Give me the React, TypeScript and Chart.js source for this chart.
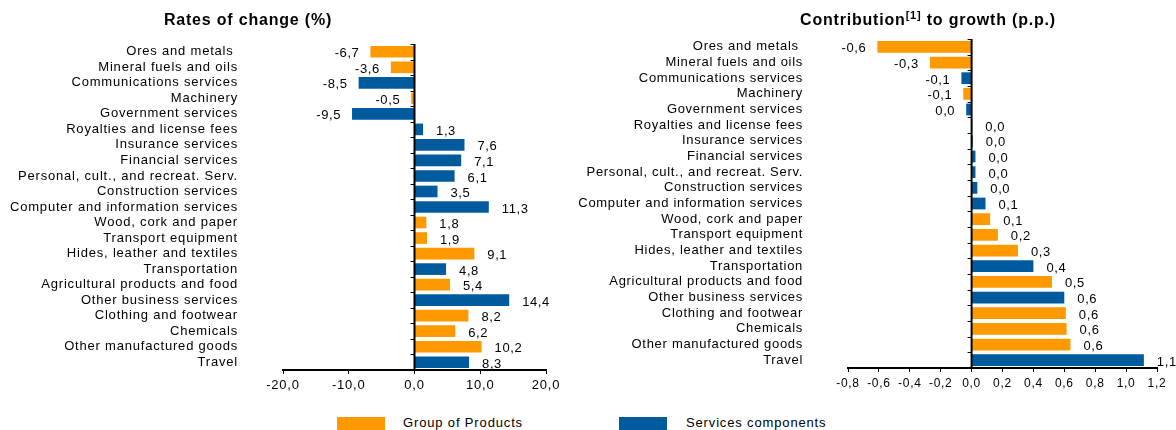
import React, { useEffect, useRef } from 'react';
import { Chart, registerables } from 'chart.js';

Chart.register(...registerables);

const categories = [
  'Ores and metals ',
  'Mineral fuels and oils',
  'Communications services',
  'Machinery',
  'Government services',
  'Royalties and license fees',
  'Insurance services',
  'Financial services',
  'Personal, cult., and recreat. Serv.',
  'Construction services',
  'Computer and information services',
  'Wood, cork and paper',
  'Transport equipment',
  'Hides, leather and textiles',
  'Transportation',
  'Agricultural products and food',
  'Other business services',
  'Clothing and footwear',
  'Chemicals',
  'Other manufactured goods',
  'Travel',
];

// P = Group of Products, S = Services components
const groupType = ['P', 'P', 'S', 'P', 'S', 'S', 'S', 'S', 'S', 'S', 'S', 'P', 'P', 'P', 'S', 'P', 'S', 'P', 'P', 'P', 'S'];

const ratesOfChange = [-6.7, -3.6, -8.5, -0.5, -9.5, 1.3, 7.6, 7.1, 6.1, 3.5, 11.3, 1.8, 1.9, 9.1, 4.8, 5.4, 14.4, 8.2, 6.2, 10.2, 8.3];

const contributions = [-0.61, -0.27, -0.066, -0.054, -0.035, 0.004, 0.008, 0.025, 0.025, 0.037, 0.09, 0.12, 0.17, 0.3, 0.4, 0.52, 0.6, 0.61, 0.615, 0.64, 1.115];

const leftTicks = { min: -20, max: 20, step: 10 };
const rightTicks = { min: -0.8, max: 1.2, step: 0.2 };

const seriesNames = ['Group of Products', 'Services components'];
const ORANGE = '#ff9900';
const BLUE = '#005a9e';

const FONT = "'Liberation Sans', Arial, sans-serif";
const NARROW = "'Liberation Sans Narrow', 'Liberation Sans', Arial, sans-serif";

const fmt = (v: number) => {
  const s = v.toFixed(1);
  if (Math.abs(parseFloat(s)) === 0) return '0,0';
  return s.replace('.', ',');
};

const spacingPlugin = {
  id: 'spacing',
  beforeUpdate(chart: any, _args: any, opts: any) {
    chart.ctx.letterSpacing = opts.value;
  },
  beforeDraw(chart: any, _args: any, opts: any) {
    chart.ctx.letterSpacing = opts.value;
  },
};

const barLabels = {
  id: 'barLabels',
  afterDatasetsDraw(chart: any) {
    const { ctx } = chart;
    const xs = chart.scales.x;
    const ys = chart.scales.y;
    ctx.save();
    ctx.letterSpacing = '0.6px';
    ctx.font = `13px ${FONT}`;
    ctx.fillStyle = '#000';
    ctx.textBaseline = 'middle';
    chart.data.datasets.forEach((ds: any, di: number) => {
      const meta = chart.getDatasetMeta(di);
      meta.data.forEach((el: any, i: number) => {
        const v = ds.data[i];
        if (v == null) return;
        const txt = fmt(v);
        if (v >= 0) {
          ctx.textAlign = 'left';
          ctx.fillText(txt, el.x + 13, el.y + 2);
        } else {
          ctx.textAlign = 'right';
          ctx.fillText(txt, el.x - 11, el.y + 2);
        }
      });
    });
    const x0 = xs.getPixelForValue(0);
    ctx.strokeStyle = '#000';
    ctx.lineWidth = 2;
    ctx.beginPath();
    ctx.moveTo(x0, ys.top);
    ctx.lineTo(x0, ys.bottom);
    ctx.stroke();
    ctx.lineWidth = 1;
    const n = chart.data.labels.length;
    for (let i = 0; i <= n; i++) {
      const y = Math.round(ys.top + ((ys.bottom - ys.top) * i) / n) + 0.5;
      ctx.beginPath();
      ctx.moveTo(x0 - 4, y);
      ctx.lineTo(x0, y);
      ctx.stroke();
    }
    ctx.restore();
  },
};

type Cfg = {
  values: number[];
  ticks: { min: number; max: number; step: number };
  yWidth: number;
  xHeight: number;
  padTop: number;
  padRight: number;
  tickFont: string;
  tickSize: number;
  spacing: string;
};

function BarChart({ cfg, width, height }: { cfg: Cfg; width: number; height: number }) {
  const ref = useRef<HTMLCanvasElement>(null);
  useEffect(() => {
    if (!ref.current) return;
    const products = cfg.values.map((v, i) => (groupType[i] === 'P' ? v : null));
    const services = cfg.values.map((v, i) => (groupType[i] === 'S' ? v : null));
    const chart = new Chart(ref.current, {
      type: 'bar',
      data: {
        labels: categories,
        datasets: [
          { label: seriesNames[0], data: products, backgroundColor: ORANGE, grouped: false, barPercentage: 0.75, categoryPercentage: 1 } as any,
          { label: seriesNames[1], data: services, backgroundColor: BLUE, grouped: false, barPercentage: 0.75, categoryPercentage: 1 } as any,
        ],
      },
      plugins: [spacingPlugin, barLabels],
      options: {
        indexAxis: 'y',
        animation: false,
        responsive: false,
        devicePixelRatio: 1,
        layout: { padding: { top: cfg.padTop, right: cfg.padRight, bottom: 0, left: 0 } },
        plugins: {
          legend: { display: false },
          tooltip: { enabled: false },
          title: { display: false },
          spacing: { value: cfg.spacing },
        },
        scales: {
          x: {
            type: 'linear',
            min: cfg.ticks.min,
            max: cfg.ticks.max,
            ticks: {
              stepSize: cfg.ticks.step,
              color: '#000',
              font: { family: cfg.tickFont, size: cfg.tickSize },
              padding: 4,
              maxRotation: 0,
              callback: (v: any) => fmt(Number(v)),
            },
            grid: { display: true, color: 'transparent', drawOnChartArea: false, drawTicks: true, tickLength: 4, tickColor: '#000', tickWidth: 1 },
            border: { display: true, color: '#000', width: 2 },
            afterFit: (s: any) => {
              s.height = cfg.xHeight;
              s.paddingLeft = 0;
              s.paddingRight = 0;
            },
          },
          y: {
            type: 'category',
            ticks: { color: '#000', font: { family: FONT, size: 13 }, padding: 45, autoSkip: false },
            grid: { display: false, drawTicks: false },
            border: { display: false },
            afterFit: (s: any) => {
              s.width = cfg.yWidth;
              s.paddingTop = 0;
              s.paddingBottom = 0;
            },
          },
        },
      } as any,
    });
    return () => chart.destroy();
  }, []);
  return <canvas ref={ref} width={width} height={height} style={{ width, height, display: 'block' }} />;
}

export default function App() {
  const leftCfg: Cfg = {
    values: ratesOfChange,
    ticks: leftTicks,
    yWidth: 283,
    xHeight: 30,
    padTop: 44,
    padRight: 24,
    tickFont: FONT,
    tickSize: 13,
    spacing: '0.8px',
  };
  const rightCfg: Cfg = {
    values: contributions,
    ticks: rightTicks,
    yWidth: 278,
    xHeight: 32,
    padTop: 39,
    padRight: 19,
    tickFont: NARROW,
    tickSize: 12,
    spacing: '0.7px',
  };
  const titleStyle: React.CSSProperties = {
    position: 'absolute',
    top: 10,
    font: `bold 16px ${FONT}`,
    letterSpacing: '0.8px',
    color: '#000',
    textAlign: 'center',
    whiteSpace: 'nowrap',
    lineHeight: '20px',
  };
  const legText: React.CSSProperties = {
    position: 'absolute',
    top: 415,
    font: `13px ${FONT}`,
    letterSpacing: '0.85px',
    color: '#000',
    lineHeight: '16px',
    whiteSpace: 'nowrap',
  };
  return (
    <div style={{ position: 'fixed', left: 0, top: 0, width: 1176, height: 430, background: '#fff', overflow: 'hidden' }}>
      <div style={{ position: 'absolute', left: 0, top: 0 }}>
        <BarChart cfg={leftCfg} width={570} height={400} />
      </div>
      <div style={{ position: 'absolute', left: 570, top: 0 }}>
        <BarChart cfg={rightCfg} width={606} height={400} />
      </div>
      <div style={{ ...titleStyle, left: 98, width: 300 }}>Rates of change (%)</div>
      <div style={{ ...titleStyle, left: 778, width: 300 }}>
        Contribution<sup style={{ fontSize: 11, lineHeight: 0, verticalAlign: 'super' }}>[1]</sup> to growth (p.p.)
      </div>
      <div style={{ position: 'absolute', left: 337, top: 417, width: 48, height: 14, background: ORANGE }} />
      <div style={{ ...legText, left: 403 }}>{seriesNames[0]}</div>
      <div style={{ position: 'absolute', left: 619, top: 417, width: 48, height: 14, background: BLUE }} />
      <div style={{ ...legText, left: 686 }}>{seriesNames[1]}</div>
    </div>
  );
}
